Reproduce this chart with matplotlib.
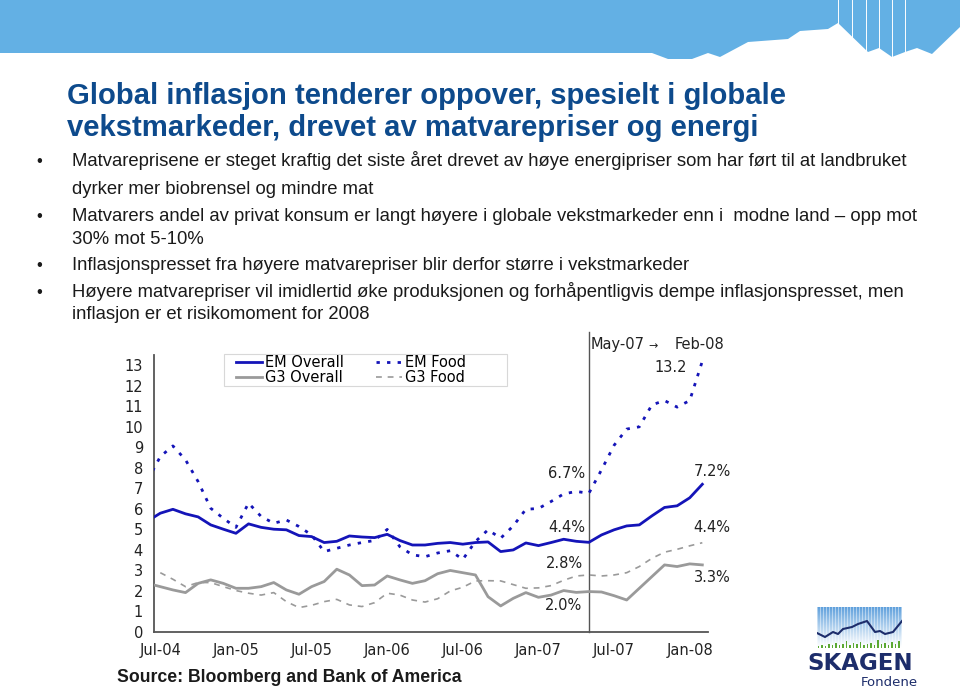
import numpy as np
import matplotlib
matplotlib.use('Agg')
from matplotlib import pyplot as plt
from matplotlib.patches import Polygon, Rectangle

# monthly data, Jun-04 .. Feb-08 (index -1 .. 43, Jul-04 = 0)
months = np.arange(-1, 44)
em_overall = [5.41, 5.79, 5.98, 5.76, 5.61, 5.22, 5.01, 4.81, 5.27, 5.10, 5.01,
              4.98, 4.70, 4.65, 4.36, 4.42, 4.68, 4.63, 4.60, 4.76, 4.46, 4.24,
              4.24, 4.32, 4.36, 4.28, 4.36, 4.39, 3.92, 4.00, 4.34, 4.21, 4.36,
              4.52, 4.42, 4.37, 4.73, 4.98, 5.17, 5.22, 5.66, 6.07, 6.15, 6.54, 7.20]
em_food = [7.40, 8.55, 9.07, 8.39, 7.33, 6.03, 5.54, 5.10, 6.28, 5.63, 5.30,
           5.46, 5.14, 4.73, 3.92, 4.08, 4.24, 4.36, 4.46, 5.00, 4.16, 3.76,
           3.67, 3.85, 3.96, 3.54, 4.41, 4.98, 4.57, 5.17, 5.98, 6.02, 6.36,
           6.73, 6.85, 6.76, 7.90, 9.10, 9.89, 10.00, 11.07, 11.28, 10.96, 11.28, 13.20]
g3_overall = [2.37, 2.21, 2.05, 1.92, 2.37, 2.54, 2.37, 2.13, 2.13, 2.21, 2.41,
              2.05, 1.84, 2.21, 2.46, 3.06, 2.78, 2.26, 2.29, 2.73, 2.54, 2.37,
              2.50, 2.84, 3.00, 2.89, 2.78, 1.72, 1.27, 1.64, 1.92, 1.69, 1.80,
              2.02, 1.93, 1.97, 1.95, 1.77, 1.56, 2.13, 2.70, 3.27, 3.19, 3.32, 3.27]
g3_food = [np.nan, 2.89, 2.57, 2.21, 2.41, 2.41, 2.21, 2.02, 1.89, 1.80, 1.92,
           1.48, 1.19, 1.30, 1.48, 1.59, 1.32, 1.24, 1.43, 1.89, 1.80, 1.56,
           1.46, 1.62, 2.00, 2.18, 2.49, 2.50, 2.49, 2.31, 2.13, 2.15, 2.26,
           2.52, 2.73, 2.78, 2.73, 2.78, 2.89, 3.19, 3.59, 3.89, 4.03, 4.20, 4.35]

tick_pos = [0, 6, 12, 18, 24, 30, 36, 42]
tick_labels = ['Jul-04', 'Jan-05', 'Jul-05', 'Jan-06', 'Jul-06', 'Jan-07', 'Jul-07', 'Jan-08']
may07 = 34

title_lines = ['Global inflasjon tenderer oppover, spesielt i globale',
               'vekstmarkeder, drevet av matvarepriser og energi']
bullets = [
    ['Matvareprisene er steget kraftig det siste året drevet av høye energipriser som har ført til at landbruket',
     'dyrker mer biobrensel og mindre mat'],
    ['Matvarers andel av privat konsum er langt høyere i globale vekstmarkeder enn i  modne land \u2013 opp mot',
     '30% mot 5-10%'],
    ['Inflasjonspresset fra høyere matvarepriser blir derfor større i vekstmarkeder'],
    ['Høyere matvarepriser vil imidlertid øke produksjonen og forhåpentligvis dempe inflasjonspresset, men',
     'inflasjon er et risikomoment for 2008'],
]

W, H = 960, 690


def fx(x):
    return x / W


def fy(y):
    return 1 - y / H


fig = plt.figure(figsize=(9.6, 6.9), dpi=100)
fig.patch.set_facecolor('white')

# top banner
banner = [(0, 0), (960, 0), (960, 27), (932, 54), (917, 48), (905, 52), (892, 57),
          (879, 48), (868, 52), (838, 23), (828, 29), (800, 31), (788, 39), (748, 42),
          (720, 57), (708, 53), (692, 59), (668, 59), (652, 53), (0, 53)]
fig.patches.append(Polygon([(fx(a), fy(b)) for a, b in banner], closed=True,
                           transform=fig.transFigure, facecolor='#63b0e4',
                           edgecolor='none', zorder=0))
for xl, yb in [(838, 24), (852, 52), (866, 52), (879, 48), (892, 56), (905, 52)]:
    fig.add_artist(plt.Line2D([fx(xl), fx(xl)], [fy(0), fy(yb)], color='white',
                              lw=0.7, transform=fig.transFigure))

# title and bullets
txt = ['Liberation Sans', 'DejaVu Sans']
for line, yb in zip(title_lines, [104, 136]):
    fig.text(fx(67), fy(yb), line, family=txt, fontsize=21.1, weight='bold',
             color='#0d4a8c', va='baseline')
ys = [[166, 194], [221, 244], [270], [297, 319]]
for blines, yl in zip(bullets, ys):
    fig.text(fx(36), fy(yl[0]), '\u2022', family=txt, fontsize=12, color='#1a1a1a', va='baseline')
    for line, yb in zip(blines, yl):
        fig.text(fx(72), fy(yb), line, family=txt, fontsize=13.3, color='#1a1a1a', va='baseline')

# chart
ax = fig.add_axes([fx(154), fy(632), (708 - 154) / W, (632 - 355) / H])
blue = '#1414b8'
grey = '#9a9a9a'
ax.plot(months, em_overall, color=blue, lw=2.0, label='EM Overall', zorder=4)
ax.plot(months, g3_overall, color=grey, lw=2.0, label='G3 Overall', zorder=3)
ax.plot(months, em_food, color=blue, lw=2.0, ls=(0, (1.2, 2.6)), label='EM Food', zorder=4)
ax.plot(months, g3_food, color=grey, lw=1.2, ls=(0, (3.5, 3.5)), label='G3 Food', zorder=3)
ax.plot([may07, may07], [0, 14.6], color='#555555', lw=1.0, clip_on=False, zorder=2)

ax.set_xlim(-0.5, 43.45)
ax.set_ylim(0, 13.5)
ax.set_yticks(range(0, 14))
ax.set_xticks(tick_pos)
ax.set_xticklabels(tick_labels)
ax.tick_params(length=0, labelsize=10.5, colors='#222222')
ax.tick_params(axis='y', pad=8)
ax.tick_params(axis='x', pad=8)
for s in ['top', 'right']:
    ax.spines[s].set_visible(False)
for s in ['left', 'bottom']:
    ax.spines[s].set_color('#555555')
    ax.spines[s].set_linewidth(1.3)

# legend frame (wider than the entries, as in the original)
ax.add_patch(Rectangle((fx(224), fy(386)), (507 - 224) / W, (386 - 354) / H,
                       transform=fig.transFigure, facecolor='white',
                       edgecolor='#d8d8d8', lw=0.8, zorder=5, clip_on=False))
h, l = ax.get_legend_handles_labels()
leg = ax.legend(h, l, ncol=2, loc='upper left',
                bbox_to_anchor=((236 - 154) / 554, (632 - 355) / 277),
                borderaxespad=0, borderpad=0, fontsize=10.5, frameon=False,
                handlelength=1.8, handletextpad=0.2, columnspacing=2.2,
                labelspacing=0.0)
leg.set_zorder(6)

# value labels
for s, x, y in [('6.7%', 567, 473), ('4.4%', 567, 527), ('2.8%', 564, 563),
                ('2.0%', 564, 606), ('7.2%', 712, 472), ('4.4%', 712, 528),
                ('3.3%', 712, 578), ('13.2', 671, 368), ('May-07', 618, 344),
                ('Feb-08', 700, 344)]:
    fig.text(fx(x), fy(y), s, fontsize=10.5, color='#222222', ha='center', va='center')
fig.text(fx(653), fy(346), '\u2192', fontsize=8, color='#222222', ha='center', va='center')

fig.text(fx(117), fy(678), 'Source: Bloomberg and Bank of America', family=txt,
         fontsize=12.7, weight='bold', color='#1a1a1a', va='center')

# logo
lax = fig.add_axes([fx(817), fy(648), 85 / W, 41 / H])
grad = np.linspace(0, 1, 41)[:, None] * np.ones((1, 85))
stripes = np.ones((1, 85))
stripes[0, ::3] = 0.55
img = np.zeros((41, 85, 3))
top = np.array([0.36, 0.62, 0.86])
for c in range(3):
    img[:, :, c] = 1 - (1 - top[c]) * (1 - grad) ** 1.1 * stripes
lax.imshow(img, extent=[0, 85, 0, 41], aspect='auto', origin='upper')
logo_x = [0, 8, 16, 21, 26, 35, 41, 50, 58, 63, 68, 76, 85]
logo_y = [15, 11, 16, 14, 19, 21, 24, 27, 16, 17, 14, 16, 27]
lax.plot(logo_x, logo_y, color='#1d2d6b', lw=1.5)
bar_x = np.arange(1.5, 85, 3.5)
bar_h = [2, 3, 2, 4, 3, 5, 3, 4, 7, 3, 5, 4, 6, 3, 4, 5, 3, 8, 4, 5, 3, 6, 4, 7]
lax.bar(bar_x, bar_h, width=1.4, color='#5aa832')
lax.set_xlim(0, 85)
lax.set_ylim(0, 41)
lax.axis('off')
fig.text(fx(860), fy(664), 'SKAGEN', fontsize=16.5, weight='bold', color='#1d2d6b',
         ha='center', va='center')
fig.text(fx(889), fy(682), 'Fondene', fontsize=9.5, color='#1d2d6b', ha='center', va='center')

fig.savefig('out.png', dpi=100)
